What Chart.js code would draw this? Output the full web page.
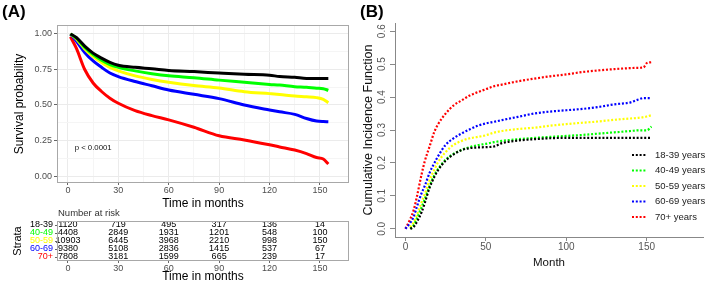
<!DOCTYPE html>
<html>
<head>
<meta charset="utf-8">
<script src="https://cdn.jsdelivr.net/npm/chart.js@4.4.0/dist/chart.umd.min.js"></script>
<style>
  html, body { margin: 0; padding: 0; background: #fff; }
  #wrap { position: relative; width: 707px; height: 283px; overflow: hidden; background: #fff; }
  #wrap canvas { position: absolute; }
</style>
</head>
<body>
<div id="wrap">
  <canvas id="kmChart" width="360" height="216" style="left:0;top:0"></canvas>
  <canvas id="riskChart" width="360" height="84" style="left:0;top:205px"></canvas>
  <canvas id="cifChart" width="347" height="283" style="left:360px;top:0"></canvas>
</div>
<script>
// Age groups shared by both panels
const strata = ['18-39', '40-49', '50-59', '60-69', '70+'];
const strataColors = ['#000000', '#00ff00', '#ffff00', '#0000ff', '#ff0000'];

// Panel A: Kaplan-Meier survival probability
const kmMonths  = [1.5, 5, 10, 15, 20, 25, 30, 40, 50, 60, 75, 90, 105, 120, 126, 135, 142, 148, 152, 155];
const km1839 = [1.0, 0.975, 0.915, 0.865, 0.83, 0.80, 0.78, 0.765, 0.755, 0.743, 0.735, 0.725, 0.716, 0.71, 0.70, 0.695, 0.687, 0.687, 0.687, 0.687];
const km4049 = [1.0, 0.97, 0.905, 0.855, 0.815, 0.785, 0.765, 0.74, 0.72, 0.705, 0.692, 0.675, 0.66, 0.645, 0.64, 0.629, 0.625, 0.618, 0.615, 0.603];
const km5059 = [1.0, 0.965, 0.895, 0.84, 0.80, 0.765, 0.74, 0.705, 0.68, 0.66, 0.637, 0.62, 0.594, 0.58, 0.574, 0.563, 0.558, 0.552, 0.54, 0.516];
const km6069 = [1.0, 0.95, 0.87, 0.81, 0.765, 0.725, 0.70, 0.665, 0.635, 0.605, 0.575, 0.545, 0.50, 0.465, 0.452, 0.434, 0.405, 0.387, 0.383, 0.382];
const km70   = [0.98, 0.90, 0.75, 0.655, 0.595, 0.548, 0.512, 0.46, 0.425, 0.395, 0.343, 0.283, 0.254, 0.22, 0.205, 0.183, 0.158, 0.13, 0.12, 0.085];

// Number at risk table
const riskTimes = [0, 30, 60, 90, 120, 150];
const risk1839 = [1120, 719, 495, 317, 136, 14];
const risk4049 = [4408, 2849, 1931, 1201, 548, 100];
const risk5059 = [10903, 6445, 3968, 2210, 998, 150];
const risk6069 = [9380, 5108, 2836, 1415, 537, 67];
const risk70   = [7808, 3181, 1599, 665, 239, 17];

// Panel B: cumulative incidence function
const cifMonths = [0, 3, 5, 7, 10, 12, 15, 18, 20, 25, 30, 35, 40, 45, 50, 55, 60, 70, 80, 90, 100, 110, 120, 130, 140, 145, 148, 150, 153];
const cif1839 = [null, 0, 0.005, 0.02, 0.05, 0.078, 0.125, 0.158, 0.176, 0.207, 0.226, 0.239, 0.245, 0.247, 0.248, 0.25, 0.26, 0.268, 0.272, 0.275, 0.276, 0.276, 0.276, 0.276, 0.276, 0.276, 0.276, 0.276, 0.276];
const cif4049 = [null, 0, 0.01, 0.03, 0.065, 0.09, 0.13, 0.163, 0.18, 0.21, 0.228, 0.24, 0.248, 0.254, 0.258, 0.263, 0.267, 0.272, 0.276, 0.279, 0.282, 0.285, 0.289, 0.293, 0.297, 0.299, 0.299, 0.299, 0.31];
const cif5059 = [null, 0.005, 0.018, 0.04, 0.08, 0.105, 0.148, 0.18, 0.2, 0.233, 0.255, 0.267, 0.275, 0.279, 0.284, 0.292, 0.297, 0.303, 0.307, 0.313, 0.318, 0.322, 0.326, 0.331, 0.335, 0.337, 0.339, 0.341, 0.345];
const cif6069 = [0, 0.018, 0.035, 0.065, 0.108, 0.13, 0.17, 0.20, 0.218, 0.255, 0.275, 0.29, 0.302, 0.313, 0.32, 0.325, 0.33, 0.34, 0.35, 0.356, 0.36, 0.364, 0.37, 0.378, 0.384, 0.393, 0.397, 0.397, 0.397];
const cif70   = [0, 0.03, 0.055, 0.095, 0.165, 0.205, 0.25, 0.295, 0.315, 0.35, 0.375, 0.39, 0.405, 0.415, 0.424, 0.433, 0.438, 0.448, 0.456, 0.463, 0.469, 0.476, 0.481, 0.485, 0.488, 0.489, 0.49, 0.503, 0.506];
const cifLabels = ['18-39 years', '40-49 years', '50-59 years', '60-69 years', '70+ years'];

// Tick positions
const kmTicksX = [0, 15, 30, 45, 60, 75, 90, 105, 120, 135, 150];
const kmTicksY = [0, 0.125, 0.25, 0.375, 0.5, 0.625, 0.75, 0.875, 1];
const cifTicksX = [0, 50, 100, 150];
const cifTicksY = [0, 0.1, 0.2, 0.3, 0.4, 0.5, 0.6];

const FONT = '"Liberation Sans", Arial, sans-serif';
Chart.defaults.font.family = FONT;
Chart.defaults.animation = false;

function toPoints(xs, ys) {
  return xs.map((x, i) => ({ x: x, y: ys[i] }));
}

const isMajorX = v => v % 30 === 0;
const isMajorY = v => Math.abs(v * 4 - Math.round(v * 4)) < 1e-6;

// grey frame round the ggplot panels
const panelBox = {
  id: 'panelBox',
  afterDraw(chart) {
    const { ctx, chartArea: a } = chart;
    ctx.save();
    ctx.strokeStyle = '#a8a8a8';
    ctx.lineWidth = 1;
    ctx.strokeRect(Math.round(a.left) + 0.5, Math.round(a.top) + 0.5, Math.round(a.width) - 1, Math.round(a.height) - 1);
    ctx.restore();
  }
};

// p-value annotation
const pValueLabel = {
  id: 'pValueLabel',
  afterDatasetsDraw(chart) {
    const { ctx, scales } = chart;
    ctx.save();
    ctx.font = '7.8px ' + FONT;
    ctx.fillStyle = '#111';
    ctx.textAlign = 'left';
    ctx.textBaseline = 'middle';
    ctx.fillText('p < 0.0001', scales.x.getPixelForValue(4), scales.y.getPixelForValue(0.2));
    ctx.restore();
  }
};

const kmSeries = [km1839, km4049, km5059, km6069, km70];

new Chart(document.getElementById('kmChart'), {
  type: 'line',
  data: {
    datasets: kmSeries.map((s, k) => ({
      label: strata[k],
      data: toPoints(kmMonths, s),
      borderColor: strataColors[k],
      backgroundColor: strataColors[k],
      borderWidth: 3,
      pointRadius: 0,
      fill: false,
      cubicInterpolationMode: 'monotone',
    })),
  },
  options: {
    responsive: false,
    layout: { padding: { left: 2, right: 11, top: 0, bottom: 0 } },
    scales: {
      x: {
        type: 'linear',
        min: -6.5,
        max: 167.3,
        afterBuildTicks: s => { s.ticks = kmTicksX.map(v => ({ value: v })); },
        afterFit: s => { s.height = 33; },
        border: { display: false },
        grid: {
          color: c => (isMajorX(c.tick.value) ? '#ebebeb' : '#f5f5f5'),
          tickColor: c => (isMajorX(c.tick.value) ? '#666' : 'rgba(0,0,0,0)'),
          tickLength: 2,
        },
        ticks: {
          font: { size: 9 },
          color: '#4d4d4d',
          padding: 0,
          maxRotation: 0,
          autoSkip: false,
          callback: v => (isMajorX(v) ? String(v) : ''),
        },
        title: { display: true, text: 'Time in months', color: '#000', font: { size: 12 }, padding: { top: 0, bottom: 4.8 } },
      },
      y: {
        min: -0.049,
        max: 1.063,
        afterBuildTicks: s => { s.ticks = kmTicksY.map(v => ({ value: v })); },
        afterFit: s => { s.width = 55; },
        border: { display: false },
        grid: {
          color: c => (isMajorY(c.tick.value) ? '#ebebeb' : '#f5f5f5'),
          tickColor: c => (isMajorY(c.tick.value) ? '#666' : 'rgba(0,0,0,0)'),
          tickLength: 3,
        },
        ticks: {
          font: { size: 9 },
          color: '#4d4d4d',
          padding: 2,
          autoSkip: false,
          callback: v => (isMajorY(v) ? v.toFixed(2) : ''),
        },
        title: { display: true, text: 'Survival probability', color: '#000', font: { size: 12 }, padding: { top: 10, bottom: 0 } },
      },
    },
    plugins: {
      legend: { display: false },
      tooltip: { enabled: false },
      title: {
        display: true,
        text: '(A)',
        align: 'start',
        color: '#000',
        font: { size: 17, weight: 'bold' },
        padding: { top: 2, bottom: 2.6 },
      },
    },
  },
  plugins: [panelBox, pValueLabel],
});

// Number at risk table, text placed at the scale positions of each (time, stratum) point
const riskCounts = [risk1839, risk4049, risk5059, risk6069, risk70];

const riskText = {
  id: 'riskText',
  afterDatasetsDraw(chart) {
    const { ctx, chartArea } = chart;
    ctx.save();
    ctx.font = '9px ' + FONT;
    ctx.fillStyle = '#000';
    ctx.textAlign = 'center';
    ctx.textBaseline = 'middle';
    riskCounts.forEach((row, k) => {
      chart.getDatasetMeta(k).data.forEach((pt, i) => {
        ctx.fillText(String(row[i]), pt.x, pt.y);
      });
    });
    ctx.textAlign = 'left';
    ctx.fillStyle = '#333';
    ctx.font = '9.5px ' + FONT;
    ctx.fillText('Number at risk', chartArea.left + 1, chartArea.top - 8);
    ctx.restore();
  }
};

new Chart(document.getElementById('riskChart'), {
  type: 'scatter',
  data: {
    datasets: riskCounts.map((row, k) => ({
      label: strata[k],
      data: riskTimes.map(t => ({ x: t, y: strata[k] })),
      pointRadius: 0,
      showLine: false,
    })),
  },
  options: {
    responsive: false,
    layout: { padding: { left: 2, right: 11, top: 16, bottom: 0 } },
    scales: {
      x: {
        type: 'linear',
        min: -6.5,
        max: 167.3,
        afterBuildTicks: s => { s.ticks = riskTimes.map(v => ({ value: v })); },
        afterFit: s => { s.height = 28; },
        border: { display: false },
        grid: { drawOnChartArea: false, tickColor: '#666', tickLength: 2 },
        ticks: { font: { size: 9 }, color: '#4d4d4d', padding: 0, maxRotation: 0, autoSkip: false },
        title: { display: true, text: 'Time in months', color: '#000', font: { size: 12 }, padding: { top: 0, bottom: 4.8 } },
      },
      y: {
        type: 'category',
        labels: strata,
        offset: true,
        afterFit: s => { s.width = 55; },
        border: { display: false },
        grid: { drawOnChartArea: false, offset: false, tickColor: '#666', tickLength: 2 },
        ticks: { font: { size: 9 }, color: c => strataColors[c.index], padding: 2, autoSkip: false },
        title: { display: true, text: 'Strata', color: '#000', font: { size: 11 }, padding: { top: 9.5, bottom: 0 } },
      },
    },
    plugins: {
      legend: { display: false },
      tooltip: { enabled: false },
    },
  },
  plugins: [panelBox, riskText],
});

// Panel B legend, drawn inside the plot region
const cifLegend = {
  id: 'cifLegend',
  afterDraw(chart) {
    const { ctx, chartArea: a } = chart;
    const x0 = a.right - 71;
    ctx.save();
    ctx.font = '9.5px ' + FONT;
    ctx.textAlign = 'left';
    ctx.textBaseline = 'middle';
    chart.data.datasets.forEach((ds, i) => {
      const y = a.top + 132 + i * 15.5;
      ctx.strokeStyle = ds.borderColor;
      ctx.lineWidth = ds.borderWidth;
      ctx.setLineDash(ds.borderDash);
      ctx.beginPath();
      ctx.moveTo(x0, y);
      ctx.lineTo(x0 + 14, y);
      ctx.stroke();
      ctx.setLineDash([]);
      ctx.fillStyle = '#222';
      ctx.fillText(ds.label, x0 + 23, y);
    });
    ctx.restore();
  }
};

const cifSeries = [cif1839, cif4049, cif5059, cif6069, cif70];

new Chart(document.getElementById('cifChart'), {
  type: 'line',
  data: {
    datasets: cifSeries.map((s, k) => ({
      label: cifLabels[k],
      data: toPoints(cifMonths, s),
      borderColor: strataColors[k],
      borderWidth: 2.2,
      borderDash: [2, 1.8],
      borderCapStyle: 'butt',
      pointRadius: 0,
      fill: false,
      cubicInterpolationMode: 'monotone',
    })),
  },
  options: {
    responsive: false,
    layout: { padding: { left: 0, right: 4, top: 0, bottom: 0 } },
    scales: {
      x: {
        type: 'linear',
        min: -6.5,
        max: 185,
        afterBuildTicks: s => { s.ticks = cifTicksX.map(v => ({ value: v })); },
        afterFit: s => { s.height = 46; },
        border: { display: true, color: '#888', width: 1 },
        grid: { drawOnChartArea: false, tickColor: '#888', tickLength: 4 },
        ticks: { font: { size: 10 }, color: '#555', padding: 0, maxRotation: 0, autoSkip: false },
        title: { display: true, text: 'Month', color: '#111', font: { size: 11.5 }, padding: { top: 0, bottom: 13 } },
      },
      y: {
        min: -0.025,
        max: 0.625,
        afterBuildTicks: s => { s.ticks = cifTicksY.map(v => ({ value: v })); },
        afterFit: s => { s.width = 35; },
        border: { display: true, color: '#888', width: 1 },
        grid: { drawOnChartArea: false, tickColor: '#888', tickLength: 5 },
        ticks: {
          font: { size: 10 },
          color: '#555',
          padding: 0.5,
          minRotation: 90,
          maxRotation: 90,
          crossAlign: 'center',
          autoSkip: false,
          callback: v => v.toFixed(1),
        },
        title: { display: true, text: 'Cumulative Incidence Function', color: '#111', font: { size: 12.5 }, padding: { top: 1.5, bottom: 0 } },
      },
    },
    plugins: {
      legend: { display: false },
      tooltip: { enabled: false },
      title: {
        display: true,
        text: '(B)',
        align: 'start',
        color: '#000',
        font: { size: 17, weight: 'bold' },
        padding: { top: 2, bottom: 0.6 },
      },
    },
  },
  plugins: [cifLegend],
});
</script>
</body>
</html>
